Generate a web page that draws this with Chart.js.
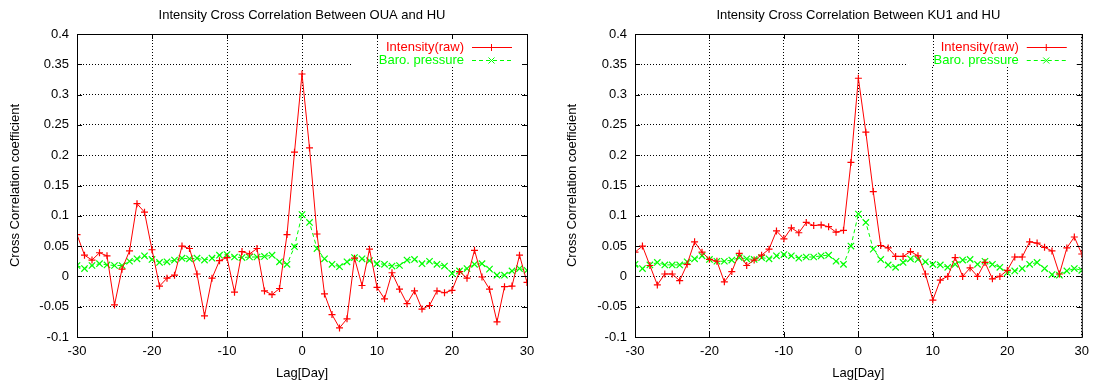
<!DOCTYPE html>
<html>
<head>
<meta charset="utf-8">
<script src="https://cdn.jsdelivr.net/npm/chart.js@4/dist/chart.umd.min.js"></script>
<style>
  html, body { margin: 0; padding: 0; background: #fff; }
  body { width: 1096px; height: 383px; position: relative; overflow: hidden; }
  canvas { position: absolute; top: 0; }
  #c1 { left: 0; }
  #c2 { left: 548px; }
</style>
</head>
<body>
<canvas id="c1" width="548" height="383"></canvas>
<canvas id="c2" width="548" height="383"></canvas>
<script>
// ---------- data ----------
const lags = [-30,-29,-28,-27,-26,-25,-24,-23,-22,-21,-20,-19,-18,-17,-16,-15,-14,-13,-12,-11,-10,-9,-8,-7,-6,-5,-4,-3,-2,-1,
  0,1,2,3,4,5,6,7,8,9,10,11,12,13,14,15,16,17,18,19,20,21,22,23,24,25,26,27,28,29,30];

const ouaIntensity = [0.069,0.035,0.027,0.039,0.034,-0.047,0.012,0.042,0.120,0.106,0.044,-0.016,-0.003,0.002,0.050,0.046,0.004,-0.065,-0.003,0.026,0.031,-0.026,0.041,0.037,0.046,-0.024,-0.030,-0.020,0.069,0.205,
  0.334,0.212,0.070,-0.029,-0.063,-0.085,-0.070,0.030,-0.015,0.045,-0.018,-0.037,0.006,-0.021,-0.045,-0.024,-0.054,-0.048,-0.024,-0.027,-0.023,0.008,-0.003,0.043,-0.001,-0.021,-0.075,-0.017,-0.016,0.035,-0.010];

const ouaBaro = [0.018,0.013,0.018,0.021,0.019,0.018,0.018,0.025,0.029,0.034,0.028,0.023,0.024,0.027,0.030,0.029,0.030,0.027,0.030,0.035,0.036,0.032,0.031,0.032,0.032,0.033,0.035,0.024,0.020,0.049,
  0.102,0.089,0.046,0.029,0.020,0.016,0.024,0.031,0.029,0.026,0.021,0.020,0.017,0.018,0.027,0.028,0.021,0.025,0.020,0.017,0.005,0.009,0.013,0.020,0.021,0.012,0.002,0.002,0.009,0.013,0.010];

const ku1Intensity = [0.040,0.050,0.018,-0.014,0.004,0.004,-0.007,0.020,0.057,0.040,0.028,0.025,-0.009,0.008,0.038,0.018,0.027,0.035,0.045,0.075,0.062,0.080,0.072,0.089,0.084,0.085,0.082,0.073,0.076,0.188,
  0.327,0.238,0.140,0.051,0.047,0.033,0.033,0.041,0.034,0.004,-0.039,-0.006,0.000,0.031,0.000,0.014,0.000,0.023,-0.004,0.000,0.010,0.032,0.032,0.057,0.055,0.048,0.042,0.004,0.047,0.065,0.037];

const ku1Baro = [0.020,0.013,0.019,0.023,0.019,0.019,0.019,0.024,0.029,0.034,0.028,0.025,0.025,0.027,0.031,0.029,0.028,0.031,0.029,0.034,0.036,0.034,0.030,0.032,0.032,0.034,0.035,0.025,0.020,0.050,
  0.103,0.089,0.045,0.028,0.019,0.015,0.023,0.029,0.028,0.024,0.020,0.019,0.015,0.020,0.027,0.028,0.020,0.025,0.020,0.015,0.006,0.009,0.013,0.020,0.023,0.013,0.003,0.002,0.009,0.013,0.010];

const xTicks = [-30,-20,-10,0,10,20,30];
const xTickLabels = ['-30','-20','-10','0','10','20','30'];
const yTicks = [-0.1,-0.05,0,0.05,0.1,0.15,0.2,0.25,0.3,0.35,0.4];
const yTickLabels = ['-0.1','-0.05','0','0.05','0.1','0.15','0.2','0.25','0.3','0.35','0.4'];

const seriesNames = ['Intensity(raw)', 'Baro. pressure'];
const titles = ['Intensity Cross Correlation Between OUA and HU', 'Intensity Cross Correlation Between KU1 and HU'];
const xTitle = 'Lag[Day]';
const yTitle = 'Cross Correlation coefficient';

// ---------- styling ----------
const FONT = "'Liberation Sans', Arial, Helvetica, sans-serif";
const FS = 13;
const RED = '#ff0000';
const GREEN = '#00ff00';
Chart.defaults.font.family = FONT;
Chart.defaults.font.size = FS;
Chart.defaults.color = '#000';

function toPts(vals) { return lags.map((l, i) => ({ x: l, y: vals[i] })); }

function drawPlus(ctx, cx, cy, r) {
  ctx.beginPath();
  ctx.moveTo(cx - r, cy); ctx.lineTo(cx + r, cy);
  ctx.moveTo(cx, cy - r); ctx.lineTo(cx, cy + r);
  ctx.stroke();
}
function drawX(ctx, cx, cy, r) {
  ctx.beginPath();
  ctx.moveTo(cx - r, cy - r); ctx.lineTo(cx + r, cy + r);
  ctx.moveTo(cx - r, cy + r); ctx.lineTo(cx + r, cy - r);
  ctx.stroke();
}

const framePlugin = {
  id: 'gnuframe',
  beforeDatasetsDraw(chart) {
    const { ctx, chartArea: a, scales: { x, y } } = chart;
    const bx = a.right - 175;
    const by = a.top + 1;
    const bb = Math.round(y.getPixelForValue(0.35)) + 2;
    ctx.save();
    ctx.fillStyle = '#fff';
    ctx.fillRect(bx, by, a.right - 1 - bx, bb - by);
    const px = Math.round(x.getPixelForValue(10)) + 0.5;
    ctx.strokeStyle = '#000';
    ctx.lineWidth = 1;
    ctx.setLineDash([1, 2]);
    ctx.beginPath(); ctx.moveTo(px, by); ctx.lineTo(px, bb); ctx.stroke();
    ctx.restore();
  },
  afterDraw(chart) {
    const { ctx, chartArea: a, scales: { x, y } } = chart;
    const idx = chart.options.plugins.gnuframe.index;
    ctx.save();
    ctx.strokeStyle = '#000';
    ctx.lineWidth = 1;
    ctx.setLineDash([]);
    ctx.strokeRect(a.left + 0.5, a.top + 0.5, a.right - a.left, a.bottom - a.top);
    const tl = 5;
    ctx.beginPath();
    yTicks.forEach(v => {
      const py = Math.round(y.getPixelForValue(v)) + 0.5;
      ctx.moveTo(a.left, py); ctx.lineTo(a.left + tl, py);
      ctx.moveTo(a.right, py); ctx.lineTo(a.right - tl, py);
    });
    xTicks.forEach(v => {
      const px = Math.round(x.getPixelForValue(v)) + 0.5;
      ctx.moveTo(px, a.bottom); ctx.lineTo(px, a.bottom - tl);
      ctx.moveTo(px, a.top); ctx.lineTo(px, a.top + tl);
    });
    ctx.stroke();
    ctx.font = FS + 'px ' + FONT;
    ctx.fillStyle = '#000';
    ctx.textAlign = 'center';
    ctx.textBaseline = 'middle';
    ctx.fillText(titles[idx], (a.left + a.right) / 2, 15);
    const tx = a.right - 63;
    const rows = [a.top + 13, a.top + 26];
    const cols = [RED, GREEN];
    ctx.textAlign = 'right';
    for (let i = 0; i < 2; i++) {
      const ry = rows[i];
      ctx.fillStyle = cols[i];
      ctx.fillText(seriesNames[i], tx, ry);
      ctx.strokeStyle = cols[i];
      ctx.lineWidth = 1;
      ctx.setLineDash(i === 0 ? [] : [4, 3]);
      ctx.beginPath();
      ctx.moveTo(a.right - 55, Math.round(ry) + 0.5);
      ctx.lineTo(a.right - 15, Math.round(ry) + 0.5);
      ctx.stroke();
      ctx.setLineDash([]);
      if (i === 0) drawPlus(ctx, a.right - 35.5, Math.round(ry) + 0.5, 3.5);
      else drawX(ctx, a.right - 35.5, Math.round(ry) + 0.5, 3);
    }
    ctx.restore();
  }
};

function makeChart(id, idx, intensity, baro, padLeft, yWidth, padRight) {
  return new Chart(document.getElementById(id), {
    type: 'line',
    data: {
      datasets: [
        {
          label: seriesNames[0], data: toPts(intensity),
          borderColor: RED, backgroundColor: RED, borderWidth: 1,
          pointStyle: 'cross', pointRadius: 3.5, pointBorderWidth: 1.2,
          pointBorderColor: RED, tension: 0, fill: false
        },
        {
          label: seriesNames[1], data: toPts(baro),
          borderColor: GREEN, backgroundColor: GREEN, borderWidth: 1, borderDash: [4, 3],
          pointStyle: 'crossRot', pointRadius: 4.5, pointBorderWidth: 1.2,
          pointBorderColor: GREEN, tension: 0, fill: false
        }
      ]
    },
    options: {
      responsive: false,
      animation: false,
      devicePixelRatio: 1,
      layout: { padding: { left: padLeft, right: padRight, top: 34, bottom: 0 } },
      plugins: {
        legend: { display: false },
        title: { display: false },
        tooltip: { enabled: false },
        gnuframe: { index: idx }
      },
      scales: {
        x: {
          type: 'linear', min: -30, max: 30,
          afterBuildTicks: s => { s.ticks = xTicks.map(v => ({ value: v })); },
          afterFit: s => { s.height = 46; },
          ticks: { padding: 7, maxRotation: 0, autoSkip: false,
            callback: v => xTickLabels[xTicks.indexOf(v)] },
          grid: { color: '#000', lineWidth: 1, drawTicks: false },
          border: { display: false, dash: [1, 2] },
          title: { display: true, text: xTitle, padding: { top: 0, bottom: 2 }, font: { size: FS } }
        },
        y: {
          type: 'linear', min: -0.1, max: 0.4,
          afterBuildTicks: s => { s.ticks = yTicks.map(v => ({ value: v })); },
          afterFit: s => { s.width = yWidth; },
          ticks: { padding: 8, autoSkip: false,
            callback: v => { const k = yTicks.findIndex(t => Math.abs(t - v) < 1e-9); return yTickLabels[k]; } },
          grid: { color: '#000', lineWidth: 1, drawTicks: false },
          border: { display: false, dash: [1, 2] },
          title: { display: true, text: yTitle, padding: { top: 0, bottom: 0 }, font: { size: FS } }
        }
      }
    },
    plugins: [framePlugin]
  });
}

makeChart('c1', 0, ouaIntensity, ouaBaro, 8, 69, 21);
makeChart('c2', 1, ku1Intensity, ku1Baro, 17, 70, 11);
</script>
</body>
</html>
